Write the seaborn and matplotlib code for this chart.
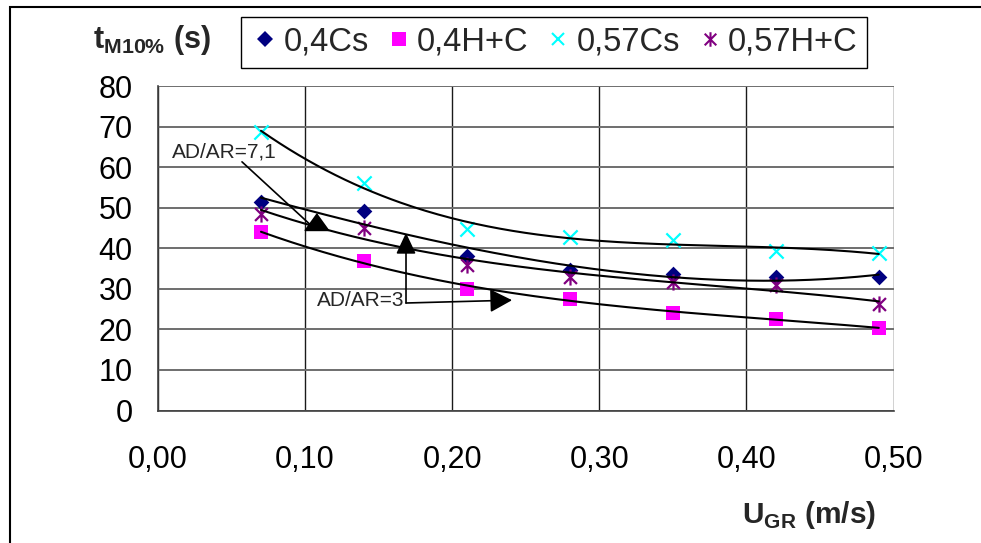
import numpy as np
import pandas as pd
import matplotlib
matplotlib.use("Agg")
import matplotlib.pyplot as plt
from matplotlib.path import Path
from matplotlib.lines import Line2D
from matplotlib.patches import Rectangle
from matplotlib.ticker import FuncFormatter, FixedLocator
import seaborn as sns

# ---- data -------------------------------------------------------------
u_gr = [0.07, 0.14, 0.21, 0.28, 0.35, 0.42, 0.49]
t_04cs = [51.3, 49.2, 38.0, 34.6, 33.6, 33.0, 32.9]
t_04hc = [43.9, 36.9, 30.0, 27.6, 24.1, 22.6, 20.3]
t_057cs = [68.6, 56.2, 44.7, 42.8, 42.0, 39.3, 38.8]
t_057hc = [48.4, 45.1, 35.8, 32.8, 31.8, 30.9, 26.2]
series_names = ["0,4Cs", "0,4H+C", "0,57Cs", "0,57H+C"]
x_ticks = [0.0, 0.1, 0.2, 0.3, 0.4, 0.5]
y_ticks = [0, 10, 20, 30, 40, 50, 60, 70, 80]

# ---- style ------------------------------------------------------------
sns.set_theme(style="white")
plt.rcParams["font.family"] = ["Liberation Sans", "DejaVu Sans"]
plt.rcParams["mathtext.fontset"] = "custom"
plt.rcParams["mathtext.rm"] = "Liberation Sans"
plt.rcParams["mathtext.bf"] = "Liberation Sans:bold"

# six-armed star: an X with a vertical bar through it
star = Path([(-0.8, -0.8), (0.8, 0.8), (-0.8, 0.8), (0.8, -0.8),
             (0, -1), (0, 1)],
            [Path.MOVETO, Path.LINETO, Path.MOVETO, Path.LINETO,
             Path.MOVETO, Path.LINETO])

styles = {
    "0,4Cs": dict(marker="D", color="#000080", s=64, filled=True),
    "0,4H+C": dict(marker="s", color="#FF00FF", s=96, filled=True),
    "0,57Cs": dict(marker="x", color="#00FFFF", s=105, filled=False),
    "0,57H+C": dict(marker=star, color="#800080", s=135, filled=False),
}

frames = []
for name, vals in zip(series_names, [t_04cs, t_04hc, t_057cs, t_057hc]):
    frames.append(pd.DataFrame({"u": u_gr, "t": vals, "serie": name}))
df = pd.concat(frames, ignore_index=True)

fig = plt.figure(figsize=(9.81, 5.43), dpi=100)
ax = fig.add_axes([158 / 981, (543 - 410.5) / 543, 735.5 / 981, 324.5 / 543])

# markers
for name in series_names:
    st = styles[name]
    sub = df[df["serie"] == name]
    if st["filled"]:
        sns.scatterplot(data=sub, x="u", y="t", marker=st["marker"], s=st["s"],
                        color=st["color"], linewidth=0, ax=ax, zorder=3,
                        legend=False)
    else:
        sns.scatterplot(data=sub, x="u", y="t", marker=st["marker"], s=st["s"],
                        color=st["color"], edgecolor=st["color"],
                        linewidth=1.6, ax=ax, zorder=3, legend=False)

# third-order polynomial trend lines
for name in series_names:
    sub = df[df["serie"] == name]
    coef = np.polyfit(sub["u"], sub["t"], 3)
    xs = np.linspace(sub["u"].min(), sub["u"].max(), 200)
    sns.lineplot(x=xs, y=np.polyval(coef, xs), color="black", lw=1.5,
                 ax=ax, zorder=4)

# axes, ticks, grid
ax.set_xlim(0, 0.5)
ax.set_ylim(0, 80)
ax.xaxis.set_major_locator(FixedLocator(x_ticks))
ax.yaxis.set_major_locator(FixedLocator(y_ticks))
ax.xaxis.set_major_formatter(FuncFormatter(lambda v, p: f"{v:.2f}".replace(".", ",")))
ax.yaxis.set_major_formatter(FuncFormatter(lambda v, p: f"{v:.0f}"))
ax.set_xlabel("")
ax.set_ylabel("")
ax.yaxis.grid(True, color="#6e6e6e", lw=1.4)
ax.xaxis.grid(True, color="#1a1a1a", lw=1.0)
ax.set_axisbelow(True)
for side in ("top", "right"):
    ax.spines[side].set_visible(False)
for side in ("left", "bottom"):
    ax.spines[side].set_color("#404040")
    ax.spines[side].set_linewidth(1.2)
ax.tick_params(axis="both", direction="out", length=7.2, width=1.0,
               color="#404040", labelsize=22, labelcolor="black")
ax.tick_params(axis="x", pad=18)
ax.tick_params(axis="y", pad=11)
ax.set_facecolor("white")

# annotations
ax.text(0.0095, 63.7, "AD/AR=7,1", fontsize=15, ha="left", va="center", zorder=6)
ax.annotate("", xy=(0.1067, 44.75), xytext=(0.0571, 61.3),
            arrowprops=dict(arrowstyle="-", color="black", lw=1.2,
                            shrinkA=0, shrinkB=0), zorder=6)
ax.annotate("", xy=(0.108, 48.7), xytext=(0.108, 44.75),
            arrowprops=dict(arrowstyle="-|>,head_length=1.15,head_width=0.83",
                            mutation_scale=10, color="black", lw=1.2,
                            shrinkA=0, shrinkB=0), zorder=6)
ax.text(0.108, 27.0, "AD/AR=3", fontsize=15, ha="left", va="center", zorder=6)
ax.annotate("", xy=(0.1686, 43.8), xytext=(0.1686, 26.5),
            arrowprops=dict(arrowstyle="-|>,head_length=1.3,head_width=0.61",
                            mutation_scale=10, color="black", lw=1.2,
                            shrinkA=0, shrinkB=0), zorder=6)
ax.annotate("", xy=(0.2407, 27.2), xytext=(0.1686, 26.5),
            arrowprops=dict(arrowstyle="-|>,head_length=1.37,head_width=0.72",
                            mutation_scale=10, color="black", lw=1.2,
                            shrinkA=0, shrinkB=0), zorder=6)

# axis titles
fig.text(93 / 981, 1 - 48 / 543, r"$\mathbf{t}_{\mathbf{M10\%}}$ (s)",
         fontsize=22, fontweight="bold", ha="left", va="baseline")
fig.text(742 / 981, 1 - 523 / 543, r"$\mathbf{U}_{\mathbf{GR}}$ (m/s)",
         fontsize=21.5, fontweight="bold", ha="left", va="baseline")

# legend
handles = []
for name in series_names:
    st = styles[name]
    ms = np.sqrt(st["s"])
    if st["filled"]:
        handles.append(Line2D([], [], ls="", marker=st["marker"], ms=ms,
                              color=st["color"], markeredgewidth=0))
    else:
        handles.append(Line2D([], [], ls="", marker=st["marker"], ms=ms * 0.9,
                              color=st["color"], markeredgecolor=st["color"],
                              markeredgewidth=1.5))
leg = fig.legend(handles, series_names, loc="upper left",
                 bbox_to_anchor=(241 / 981, 1 - 17 / 543),
                 ncol=4, fontsize=23.5, frameon=True, fancybox=False,
                 framealpha=1, edgecolor="black", borderpad=0.3,
                 borderaxespad=0, handlelength=0.9, handletextpad=0.1,
                 columnspacing=0.47, numpoints=1)
leg.get_frame().set_linewidth(1.0)

# outer frame
fig.patches.append(Rectangle((10 / 981, -0.05), 1.1, 1.05 - 7.5 / 543,
                             transform=fig.transFigure, fill=False,
                             edgecolor="black", lw=1.5, clip_on=False))

fig.savefig("out.png", dpi=100, facecolor="white")
